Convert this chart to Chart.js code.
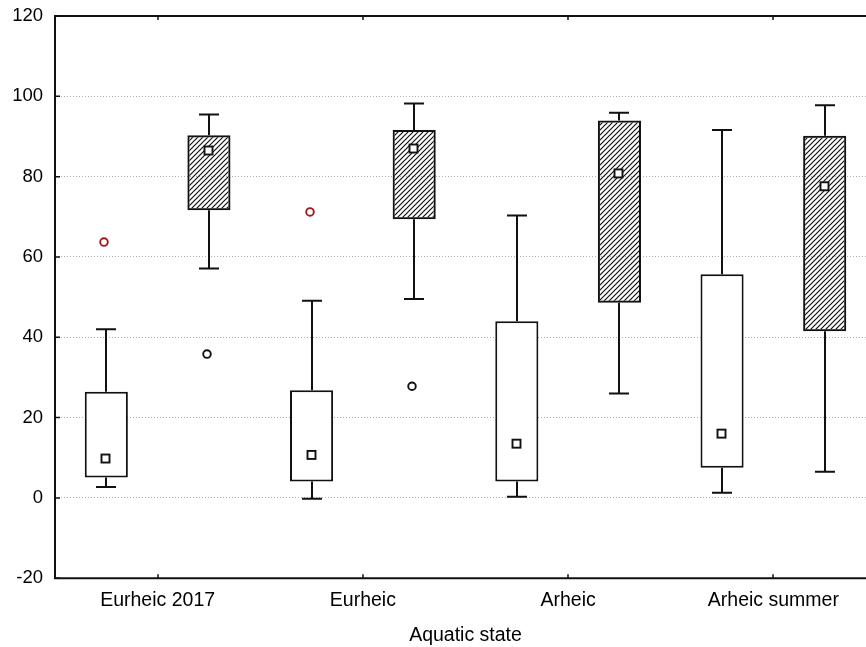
<!DOCTYPE html>
<html>
<head>
<meta charset="utf-8">
<script src="https://cdn.jsdelivr.net/npm/chart.js@4.4.1/dist/chart.umd.min.js"></script>
<style>
  html, body { margin: 0; padding: 0; background: #fff; overflow: hidden; }
  #wrap { width: 880px; height: 647px; }
</style>
</head>
<body>
<div id="wrap"><canvas id="chart" width="880" height="647"></canvas></div>
<script>
// Aquatic state categories
const categories = ['Eurheic 2017', 'Eurheic', 'Arheic', 'Arheic summer'];

// Open boxes: quartiles, whisker ends, median, outlier
const openQ1 = [5.1, 4.1, 4.1, 7.5];
const openQ3 = [26.4, 26.8, 44.0, 55.7];
const openMin = [2.7, -0.2, 0.3, 1.3];
const openMax = [42.0, 49.1, 70.3, 91.6];
const openMedian = [9.8, 10.7, 13.5, 16.0];
const openOutlier = [63.7, 71.2, null, null];

// Hatched boxes: quartiles, whisker ends, median, outlier
const hatchQ1 = [71.6, 69.4, 48.6, 41.5];
const hatchQ3 = [90.3, 91.6, 94.0, 90.2];
const hatchMin = [57.1, 49.5, 26.0, 6.5];
const hatchMax = [95.5, 98.2, 95.9, 97.8];
const hatchMedian = [86.5, 87.0, 80.8, 77.6];
const hatchOutlier = [35.8, 27.8, null, null];

// Y axis ticks
const yTicks = [-20, 0, 20, 40, 60, 80, 100, 120];

const FONT = '"Liberation Sans", Arial, sans-serif';

// Diagonal hatch fill
function makeHatch() {
  const s = 5;
  const c = document.createElement('canvas');
  c.width = s; c.height = s;
  const g = c.getContext('2d');
  g.strokeStyle = '#111';
  g.lineWidth = 1.2;
  g.beginPath();
  g.moveTo(0, s); g.lineTo(s, 0);
  g.moveTo(-1, 1); g.lineTo(1, -1);
  g.moveTo(s - 1, s + 1); g.lineTo(s + 1, s - 1);
  g.stroke();
  return g.createPattern(c, 'repeat');
}

const boxSeries = [
  { q1: openQ1, q3: openQ3, min: openMin, max: openMax, med: openMedian, out: openOutlier, outColor: '#a3171c' },
  { q1: hatchQ1, q3: hatchQ3, min: hatchMin, max: hatchMax, med: hatchMedian, out: hatchOutlier, outColor: '#111' }
];

// Whiskers, medians, outliers and the frame with inward ticks
const boxExtras = {
  id: 'boxExtras',
  afterDatasetsDraw(chart) {
    const ctx = chart.ctx;
    const y = chart.scales.y;
    const x = chart.scales.x;
    const area = chart.chartArea;
    ctx.save();
    boxSeries.forEach((s, di) => {
      const meta = chart.getDatasetMeta(di);
      meta.data.forEach((bar, j) => {
        const cx = Math.round(bar.x);
        const cap = 10;
        const pMax = y.getPixelForValue(s.max[j]);
        const pMin = y.getPixelForValue(s.min[j]);
        const pQ3 = y.getPixelForValue(s.q3[j]);
        const pQ1 = y.getPixelForValue(s.q1[j]);
        ctx.strokeStyle = '#111';
        ctx.lineWidth = 2;
        ctx.beginPath();
        ctx.moveTo(cx, pQ3); ctx.lineTo(cx, pMax);
        ctx.moveTo(cx - cap, pMax); ctx.lineTo(cx + cap, pMax);
        ctx.moveTo(cx, pQ1); ctx.lineTo(cx, pMin);
        ctx.moveTo(cx - cap, pMin); ctx.lineTo(cx + cap, pMin);
        ctx.stroke();
        // median marker
        const pm = y.getPixelForValue(s.med[j]);
        ctx.fillStyle = '#fff';
        ctx.fillRect(cx - 5, pm - 4.5, 9, 9);
        ctx.lineWidth = 1.9;
        ctx.strokeRect(cx - 4.5, pm - 4, 8, 8);
        // outlier
        if (s.out[j] !== null) {
          const po = y.getPixelForValue(s.out[j]);
          ctx.strokeStyle = s.outColor;
          ctx.lineWidth = 1.9;
          ctx.beginPath();
          ctx.arc(cx - 2, po, 3.8, 0, Math.PI * 2);
          ctx.stroke();
        }
      });
    });
    // frame
    ctx.strokeStyle = '#111';
    ctx.lineWidth = 2;
    ctx.beginPath();
    ctx.moveTo(area.right + 2, area.top);
    ctx.lineTo(area.left, area.top);
    ctx.lineTo(area.left, area.bottom);
    ctx.lineTo(area.right + 2, area.bottom);
    ctx.stroke();
    // inward ticks
    ctx.lineWidth = 1.5;
    ctx.beginPath();
    yTicks.forEach(v => {
      const p = y.getPixelForValue(v);
      ctx.moveTo(area.left, p); ctx.lineTo(area.left + 5, p);
    });
    categories.forEach((c, i) => {
      const p = Math.round(x.getPixelForValue(i));
      ctx.moveTo(p, area.bottom); ctx.lineTo(p, area.bottom - 4);
      ctx.moveTo(p, area.top); ctx.lineTo(p, area.top + 4);
    });
    ctx.stroke();
    ctx.restore();
  }
};

const ctx = document.getElementById('chart').getContext('2d');
const hatch = makeHatch();

new Chart(ctx, {
  type: 'bar',
  data: {
    labels: categories,
    datasets: [
      {
        data: openQ1.map((v, i) => [v, openQ3[i]]),
        backgroundColor: '#fff',
        borderColor: '#111',
        borderWidth: 2,
        borderSkipped: false
      },
      {
        data: hatchQ1.map((v, i) => [v, hatchQ3[i]]),
        backgroundColor: hatch,
        borderColor: '#111',
        borderWidth: 2,
        borderSkipped: false
      }
    ]
  },
  options: {
    responsive: false,
    animation: false,
    layout: { padding: { top: 0, right: 4, left: 0, bottom: 0 } },
    categoryPercentage: 1.0,
    barPercentage: 0.42,
    plugins: { legend: { display: false }, tooltip: { enabled: false } },
    scales: {
      x: {
        offset: true,
        grid: { display: false, drawTicks: false },
        border: { display: false },
        ticks: { color: '#000', font: { family: FONT, size: 19.5 }, padding: 11, maxRotation: 0 },
        title: { display: true, text: 'Aquatic state', color: '#000', font: { family: FONT, size: 19.5 }, padding: { top: 0, bottom: 0 } }
      },
      y: {
        min: -20, max: 120,
        afterBuildTicks(scale) { scale.ticks = yTicks.map(v => ({ value: v })); },
        afterFit(scale) { scale.width = 55; scale.paddingTop = 16; },
        grid: {
          drawTicks: false,
          color: c => (c.tick && (c.tick.value === -20 || c.tick.value === 120)) ? 'rgba(0,0,0,0)' : '#b0b0b0',
          lineWidth: 1
        },
        border: { display: false, dash: [1, 2] },
        ticks: { color: '#000', font: { family: FONT, size: 18.5 }, padding: 12 }
      }
    }
  },
  plugins: [boxExtras]
});
</script>
</body>
</html>
